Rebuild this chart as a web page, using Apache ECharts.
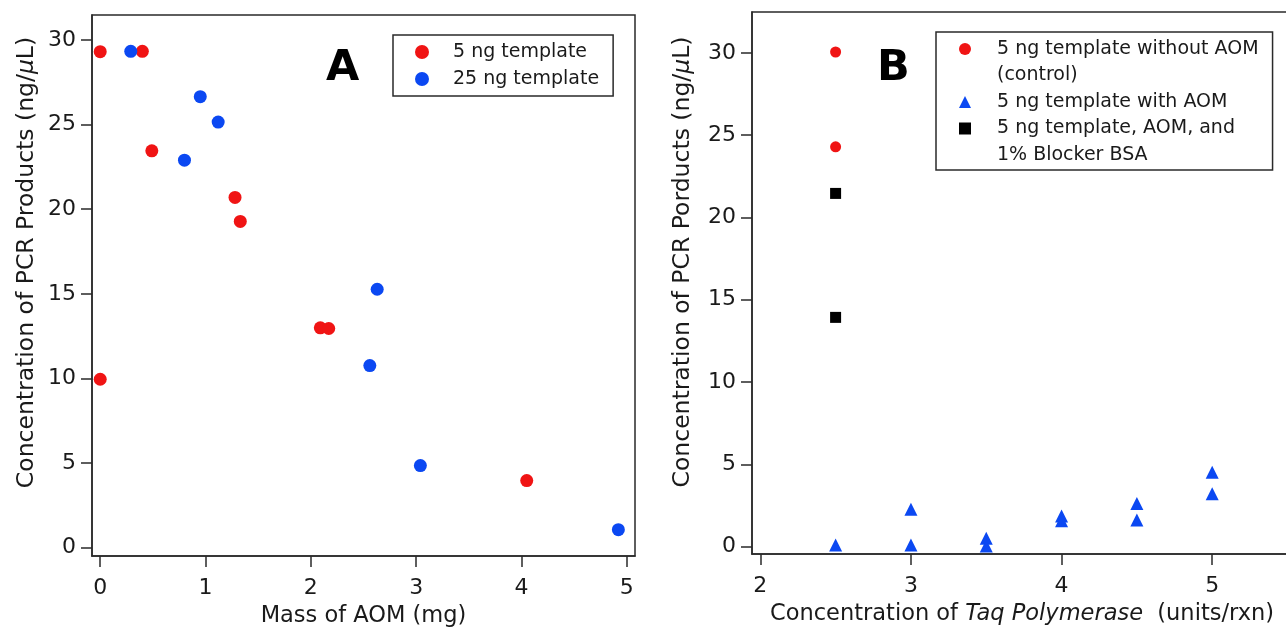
<!DOCTYPE html>
<html>
<head>
<meta charset="utf-8">
<script src="https://cdn.jsdelivr.net/npm/echarts@6/dist/echarts.min.js"></script>
<style>
html,body{margin:0;padding:0;background:#fff;}
#chart{width:1286px;height:627px;}
</style>
</head>
<body>
<div id="chart"></div>
<script>
// ---- Panel A data ----
const aRedName = '5 ng template';
const aRedX = [0, 0.40, 0.49, 1.28, 1.33, 2.09, 2.17, 0, 4.05];
const aRedY = [29.31, 29.33, 23.45, 20.70, 19.28, 12.99, 12.95, 9.95, 3.96];
const aBlueName = '25 ng template';
const aBlueX = [0.29, 0.95, 1.12, 0.80, 2.63, 2.56, 3.04, 4.92];
const aBlueY = [29.33, 26.65, 25.15, 22.90, 15.27, 10.76, 4.85, 1.06];

// ---- Panel B data ----
const bCtrlName = '5 ng template without AOM';
const bCtrlName2 = '(control)';
const bCtrlX = [2.5, 2.5];
const bCtrlY = [30.05, 24.29];
const bAomName = '5 ng template with AOM';
const bAomX = [2.5, 3, 3, 3.5, 3.5, 4, 4, 4.5, 4.5, 5, 5];
const bAomY = [0.10, 2.27, 0.10, 0.51, 0.04, 1.86, 1.58, 2.63, 1.62, 4.52, 3.22];
const bBsaName = '5 ng template, AOM, and';
const bBsaName2 = '1% Blocker BSA';
const bBsaX = [2.5, 2.5];
const bBsaY = [21.46, 13.93];

// ---- tick labels ----
const xTicksA = [0, 1, 2, 3, 4, 5];
const yTicksA = [0, 5, 10, 15, 20, 25, 30];
const xTicksB = [2, 3, 4, 5];
const yTicksB = [0, 5, 10, 15, 20, 25, 30];

const RED = '#f01414';
const BLUE = '#0b48f2';
const FONT = 'DejaVu Sans';
const TXT = '#1a1a1a';
const LINE = '#2a2a2a';
const TICK_FS = 22;
const XT_FS = 22.5;
const YT_FS = 23.5;

function pairs(xs, ys) { return xs.map((x, i) => [x, ys[i]]); }

function richName(fs, padding) {
  return {
    fontFamily: FONT, fontSize: fs, color: TXT, padding: padding,
    rich: {
      t: { fontFamily: FONT, fontSize: fs, color: TXT },
      i: { fontFamily: FONT, fontSize: fs, color: TXT, fontStyle: 'italic' }
    }
  };
}

function axisBase(ticks, min, max, labelMargin, extra) {
  return Object.assign({
    type: 'value', min: min, max: max,
    axisLine: { show: true, onZero: false, lineStyle: { color: LINE, width: 1.5 } },
    axisTick: { show: true, inside: false, length: 11, customValues: ticks, lineStyle: { color: LINE, width: 1.5 } },
    axisLabel: { customValues: ticks, fontFamily: FONT, fontSize: TICK_FS, color: TXT, margin: labelMargin },
    splitLine: { show: false },
    nameLocation: 'middle'
  }, extra);
}

const chart = echarts.init(document.getElementById('chart'), null, { renderer: 'canvas' });

const option = {
  backgroundColor: '#fff',
  animation: false,
  grid: [
    { left: 92, top: 15, width: 543, height: 541, show: true, borderColor: LINE, borderWidth: 1.5,
      containLabel: false, outerBoundsMode: 'none' },
    { left: 752, top: 12, width: 540, height: 542, show: true, borderColor: LINE, borderWidth: 1.5,
      containLabel: false, outerBoundsMode: 'none' }
  ],
  xAxis: [
    axisBase(xTicksA, -0.078, 5.078, 21.5, {
      gridIndex: 0, position: 'bottom', nameGap: 47,
      name: 'Mass of AOM (mg)',
      nameTextStyle: { fontFamily: FONT, fontSize: XT_FS, color: TXT }
    }),
    axisBase(xTicksB, 1.945, 5.53, 21.5, {
      gridIndex: 1, position: 'bottom', nameGap: 47,
      name: '{t|Concentration of }{i|Taq Polymerase}{t|  (units/rxn)}',
      nameTextStyle: richName(XT_FS, [0, 0, 0, 0])
    })
  ],
  yAxis: [
    axisBase(yTicksA, -0.497, 31.48, 16, {
      gridIndex: 0, position: 'left', nameGap: 53,
      name: '{t|Concentration of PCR Products (ng/}{i|μ}{t|L)}',
      nameTextStyle: richName(YT_FS, [0, 0, 0, 46])
    }),
    axisBase(yTicksB, -0.443, 32.48, 16, {
      gridIndex: 1, position: 'left', nameGap: 57,
      name: '{t|Concentration of PCR Porducts (ng/}{i|μ}{t|L)}',
      nameTextStyle: richName(YT_FS, [0, 0, 0, 42])
    })
  ],
  legend: [
    {
      orient: 'vertical', left: 393, top: 35,
      data: [aRedName, aBlueName],
      itemWidth: 14, itemHeight: 14, itemGap: 5, padding: [6, 14, 6, 22],
      textStyle: { fontFamily: FONT, fontSize: 19, color: TXT, lineHeight: 22, padding: [0, 0, 0, 19] },
      borderColor: LINE, borderWidth: 1.5, borderRadius: 0, backgroundColor: '#fff',
      selectedMode: false
    },
    {
      orient: 'vertical', left: 936, top: 32,
      data: [
        { name: bCtrlName }, { name: bCtrlName2, icon: 'none' },
        { name: bAomName }, { name: bBsaName }, { name: bBsaName2, icon: 'none' }
      ],
      itemWidth: 12, itemHeight: 12, itemGap: 4.5, padding: [6, 14, 4, 23],
      textStyle: { fontFamily: FONT, fontSize: 19, color: TXT, lineHeight: 22, padding: [0, 0, 0, 21] },
      borderColor: LINE, borderWidth: 1.5, borderRadius: 0, backgroundColor: '#fff',
      selectedMode: false
    }
  ],
  graphic: [
    { type: 'text', left: 326, top: 47, style: { text: 'A', fontFamily: FONT, fontWeight: 'bold', fontSize: 43, fill: '#000' } },
    { type: 'text', left: 877, top: 47, style: { text: 'B', fontFamily: FONT, fontWeight: 'bold', fontSize: 43, fill: '#000' } }
  ],
  series: [
    { name: aRedName, type: 'scatter', xAxisIndex: 0, yAxisIndex: 0, symbol: 'circle', symbolSize: 13,
      itemStyle: { color: RED, opacity: 1 }, data: pairs(aRedX, aRedY) },
    { name: aBlueName, type: 'scatter', xAxisIndex: 0, yAxisIndex: 0, symbol: 'circle', symbolSize: 13,
      itemStyle: { color: BLUE, opacity: 1 }, data: pairs(aBlueX, aBlueY) },
    { name: bCtrlName, type: 'scatter', xAxisIndex: 1, yAxisIndex: 1, symbol: 'circle', symbolSize: 11,
      itemStyle: { color: RED, opacity: 1 }, data: pairs(bCtrlX, bCtrlY) },
    { name: bCtrlName2, type: 'scatter', xAxisIndex: 1, yAxisIndex: 1, symbol: 'none', data: [] },
    { name: bAomName, type: 'scatter', xAxisIndex: 1, yAxisIndex: 1, symbol: 'triangle', symbolSize: 13,
      itemStyle: { color: BLUE, opacity: 1 }, data: pairs(bAomX, bAomY) },
    { name: bBsaName, type: 'scatter', xAxisIndex: 1, yAxisIndex: 1, symbol: 'rect', symbolSize: 11,
      itemStyle: { color: '#000', opacity: 1 }, data: pairs(bBsaX, bBsaY) },
    { name: bBsaName2, type: 'scatter', xAxisIndex: 1, yAxisIndex: 1, symbol: 'none', data: [] }
  ]
};
chart.setOption(option);
</script>
</body>
</html>
